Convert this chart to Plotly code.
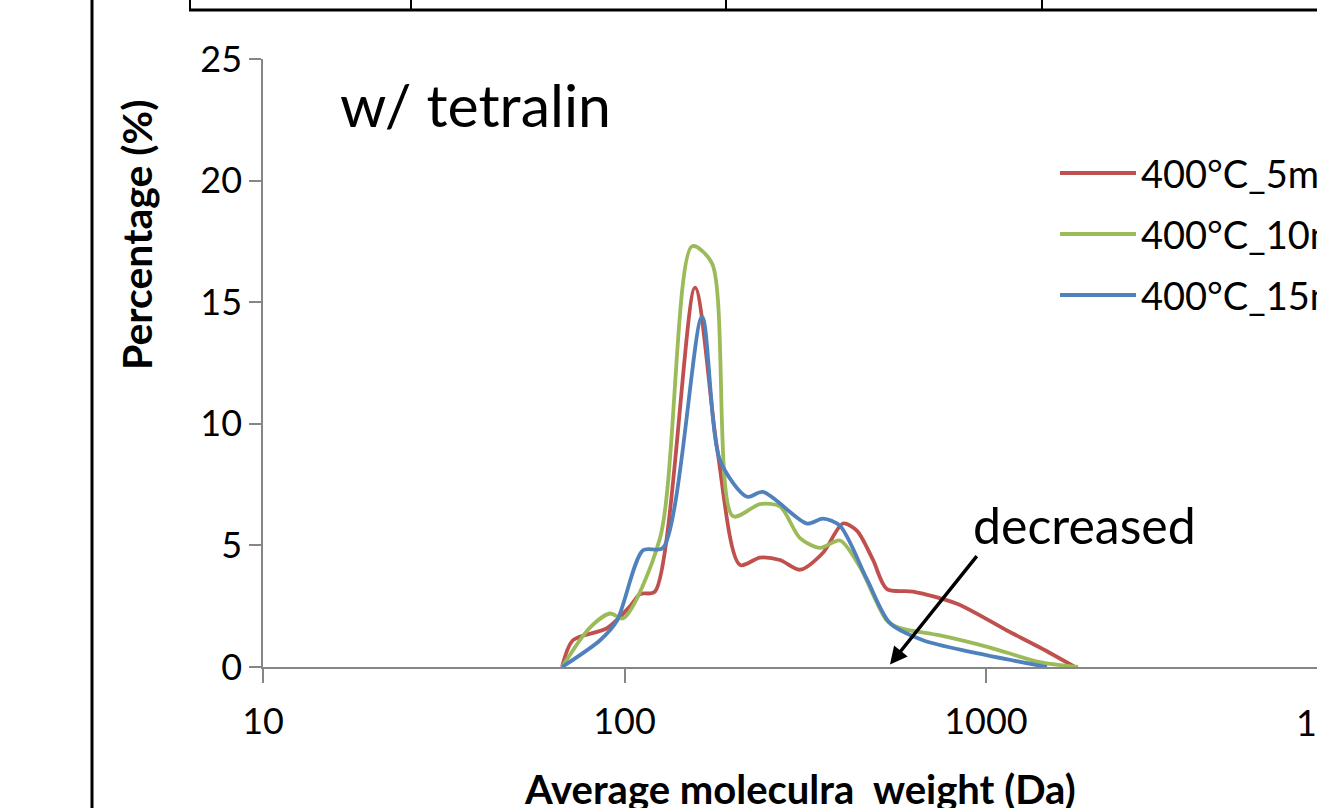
import numpy as np
import plotly.graph_objects as go

# ---------------- data ----------------
mw_5min = [67.2, 72, 89.5, 103.6, 110.4, 121.4, 156.7, 180.3, 208.6, 237, 269.2, 305.8,
           354.1, 402.2, 439.8, 486.9, 532.2, 628.2, 831.5, 1143, 1410, 1762]
pct_5min = [0, 1.1, 1.6, 2.5, 3.0, 3.1, 15.6, 9.0, 4.2, 4.5, 4.4, 4.0,
            4.7, 5.9, 5.6, 4.4, 3.2, 3.1, 2.6, 1.5, 0.8, 0]

mw_10min = [67.2, 80, 91.2, 99.1, 125.4, 153.8, 174.6, 199.5, 237, 269.2, 305.8,
            347.4, 394.6, 448.3, 532.2, 578.2, 746.1, 1025.8, 1410, 1797]
pct_10min = [0, 1.6, 2.2, 2.0, 5.3, 17.3, 16.6, 6.2, 6.7, 6.6, 5.3,
             4.9, 5.2, 4.1, 1.9, 1.6, 1.3, 0.8, 0.2, 0]

mw_15min = [67.2, 85.6, 95.3, 112.5, 127.8, 163.8, 183.8, 218.2, 241.6, 319.8,
            354.1, 394.6, 468.7, 542.5, 669.6, 920.6, 1475]
pct_15min = [0, 1.1, 1.9, 4.8, 4.9, 14.4, 8.5, 7.0, 7.2, 5.9,
             6.1, 5.8, 3.6, 1.8, 1.1, 0.6, 0]

series_names = ["400°C_5min", "400°C_10min", "400°C_15min"]
series_colors = ["#C0504D", "#9BBB59", "#4F81BD"]

y_ticks = [0, 5, 10, 15, 20, 25]
x_ticks = [10, 100, 1000]
x_tick_labels = ["10", "100", "1000"]
x_edge_tick = 10000  # last tick, lies just past the picture's right edge

FONT = "Lato"
TICK_SIZE = 36

fig = go.Figure()
for xs, ys, name, col in zip([mw_5min, mw_10min, mw_15min],
                             [pct_5min, pct_10min, pct_15min],
                             series_names, series_colors):
    fig.add_trace(go.Scatter(x=xs, y=ys, mode="lines", name=name,
                             line=dict(color=col, width=3.8, shape="spline", smoothing=0.8),
                             showlegend=False, hoverinfo="x+y+name"))

W, H = 1317, 808
L, T, B = 263, 59, 141
plot_w = W - L
plot_h = H - T - B
decade = 361.5  # px per decade in the reference


def px(xp):
    return (xp - L) / plot_w


def py(yp):
    return (H - B - yp) / plot_h


x_max = 1 + plot_w / decade

axis_col = "#868686"
fig.update_layout(
    width=W, height=H,
    margin=dict(l=L, r=0, t=T, b=B, pad=0),
    paper_bgcolor="white", plot_bgcolor="white",
    font=dict(family=FONT, color="black"),
    xaxis=dict(type="log", range=[1, x_max], showgrid=False, zeroline=False,
               showline=True, linecolor=axis_col, linewidth=1.5,
               ticks="outside", ticklen=14, tickwidth=1.5, tickcolor=axis_col,
               tickvals=x_ticks, ticktext=x_tick_labels,
               tickfont=dict(size=TICK_SIZE, family=FONT, color="black"),
               ticklabelstandoff=8),
    yaxis=dict(range=[0, 25], showgrid=False, zeroline=False,
               showline=True, linecolor=axis_col, linewidth=1.5,
               ticks="outside", ticklen=12, tickwidth=1.5, tickcolor=axis_col,
               tickvals=y_ticks,
               tickfont=dict(size=TICK_SIZE, family=FONT, color="black"),
               ticklabelstandoff=0),
)

shapes = []
# slide decorations: left border line and table bottom edge
shapes.append(dict(type="line", xref="paper", yref="paper", x0=px(92), x1=px(92),
                   y0=py(-5), y1=py(H + 5), line=dict(color="black", width=3)))
shapes.append(dict(type="line", xref="paper", yref="paper", x0=px(189), x1=px(W + 5),
                   y0=py(10), y1=py(10), line=dict(color="black", width=3)))
for vx in [190, 411, 726, 1042]:
    shapes.append(dict(type="line", xref="paper", yref="paper", x0=px(vx), x1=px(vx),
                       y0=py(-5), y1=py(10), line=dict(color="black", width=2)))
# legend keys
leg_y = [173, 234, 295]
for yy, col in zip(leg_y, series_colors):
    shapes.append(dict(type="line", xref="paper", yref="paper", x0=px(1060), x1=px(1136),
                       y0=py(yy), y1=py(yy), line=dict(color=col, width=3.8)))

annotations = []
for yy, name in zip(leg_y, series_names):
    annotations.append(dict(text=name, xref="paper", yref="paper", x=px(1139), y=py(yy),
                            xanchor="left", yanchor="middle", showarrow=False,
                            font=dict(size=38, family=FONT, color="black")))
# the 10000 tick label, cut by the right edge as in the reference
annotations.append(dict(text=str(x_edge_tick), xref="paper", yref="paper",
                        x=(np.log10(x_edge_tick) - 1) / (x_max - 1), y=py(722),
                        xanchor="center", yanchor="middle", showarrow=False,
                        font=dict(size=TICK_SIZE, family=FONT, color="black")))
annotations.append(dict(text="w/ tetralin", xref="paper", yref="paper", x=px(338), y=py(104),
                        xanchor="left", yanchor="middle", showarrow=False,
                        font=dict(size=59, family=FONT, color="black")))
annotations.append(dict(text="decreased", xref="paper", yref="paper", x=px(1084), y=py(525),
                        xanchor="center", yanchor="middle", showarrow=False,
                        font=dict(size=50, family=FONT, color="black")))
# arrow
annotations.append(dict(text="", x=np.log10(542.5), y=0.1, xref="x", yref="y",
                        ax=88, ay=-110, showarrow=True, arrowhead=2, arrowsize=1,
                        arrowwidth=3.5, arrowcolor="black"))
annotations.append(dict(text="<b>Average moleculra  weight (Da)</b>", xref="paper", yref="paper",
                        x=px(800), y=py(789), xanchor="center", yanchor="middle", showarrow=False,
                        font=dict(size=40, family=FONT, color="black")))
annotations.append(dict(text="<b>Percentage (%)</b>", xref="paper", yref="paper",
                        x=px(136), y=py(235), xanchor="center", yanchor="middle", showarrow=False,
                        textangle=-90, font=dict(size=41, family=FONT, color="black")))

fig.update_layout(shapes=shapes, annotations=annotations)
fig.write_html("out.html")
